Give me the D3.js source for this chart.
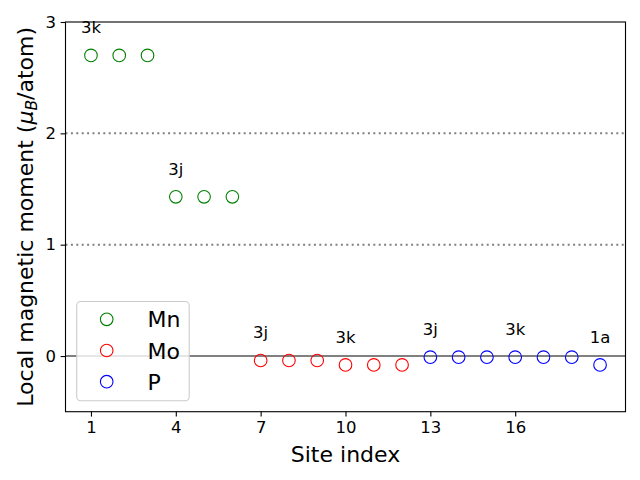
<!DOCTYPE html>
<html><head><meta charset="utf-8">
<script src="https://cdn.jsdelivr.net/npm/d3@7"></script>
<style>body{margin:0;background:#fff}svg{display:block}text{font-family:"DejaVu Sans",sans-serif}</style>
</head><body>
<svg id="c" width="640" height="480"></svg>
<script>
const species = ["Mn","Mo","P"];
const colors = ["#008000","#ff0000","#0000ff"];
const mnSites = [1,2,3,4,5,6];
const mnMoments = [2.70,2.70,2.70,1.43,1.43,1.43];
const moSites = [7,8,9,10,11,12];
const moMoments = [-0.04,-0.04,-0.04,-0.08,-0.08,-0.08];
const pSites = [13,14,15,16,17,18,19];
const pMoments = [-0.01,-0.01,-0.01,-0.01,-0.01,-0.01,-0.08];
const wyckoffLabels = ["3k","3j","3j","3k","3j","3k","1a"];
const wyckoffSites = [1,4,7,10,13,16,19];
const wyckoffMoments = [2.70,1.43,-0.04,-0.08,-0.01,-0.01,-0.08];
const xTicks = [1,4,7,10,13,16];
const yTicks = [0,1,2,3];
const dottedLevels = [1,2];

const svg = d3.select("#c");
const L=65.5, R=625.5, T=22, B=411.7;
const x = d3.scaleLinear().domain([0.1,19.9]).range([L,R]);
const y = d3.scaleLinear().domain([-0.5,3]).range([B,T]);

// reference lines
svg.selectAll(".dot").data(dottedLevels).enter().append("line")
  .attr("x1",L).attr("x2",R).attr("y1",d=>y(d)).attr("y2",d=>y(d))
  .attr("stroke","#808080").attr("stroke-width",2).attr("stroke-dasharray","2,3.4");
svg.append("line").attr("x1",L).attr("x2",R).attr("y1",y(0)).attr("y2",y(0))
  .attr("stroke","#808080").attr("stroke-width",2);

const groups = [[mnSites,mnMoments],[moSites,moMoments],[pSites,pMoments]];
groups.forEach((g,i)=>{
  svg.append("g").selectAll("circle").data(g[0].map((s,j)=>[s,g[1][j]])).enter()
    .append("circle").attr("cx",d=>x(d[0])).attr("cy",d=>y(d[1])).attr("r",6.3)
    .attr("fill","none").attr("stroke",colors[i]).attr("stroke-width",1.1);
});

// annotations
svg.append("g").selectAll("text").data(wyckoffLabels).enter().append("text")
  .attr("x",(d,i)=>x(wyckoffSites[i])).attr("y",(d,i)=>y(wyckoffMoments[i]+0.2))
  .attr("text-anchor","middle").attr("font-size",16.5).attr("fill","#000").text(d=>d);

// axes
const xa = svg.append("g").attr("transform",`translate(0,${B})`)
  .call(d3.axisBottom(x).tickValues(xTicks).tickSize(4.9).tickPadding(4.5).tickFormat(d3.format("d")));
const ya = svg.append("g").attr("transform",`translate(${L},0)`)
  .call(d3.axisLeft(y).tickValues(yTicks).tickSize(4.9).tickPadding(4.5).tickFormat(d3.format("d")));
[xa,ya].forEach(a=>{a.select(".domain").remove();a.selectAll("text").attr("font-size",16.5).attr("font-family","DejaVu Sans").attr("fill","#000");a.selectAll("line").attr("stroke","#000").attr("stroke-width",1.1);});
svg.append("rect").attr("x",L).attr("y",T).attr("width",R-L).attr("height",B-T)
  .attr("fill","none").attr("stroke","#000").attr("stroke-width",1.1);

// axis labels
svg.append("text").attr("x",(L+R)/2).attr("y",462).attr("text-anchor","middle").attr("font-size",22).text("Site index");
const yl = svg.append("text").attr("transform",`translate(33,${(T+B)/2}) rotate(-90)`).attr("text-anchor","middle").attr("font-size",22);
yl.append("tspan").text("Local magnetic moment (");
yl.append("tspan").attr("font-style","italic").text("μ");
yl.append("tspan").attr("font-style","italic").attr("font-size",15.5).attr("dy",4).text("B");
yl.append("tspan").attr("dy",-4).text("/atom)");

// legend
const lg = svg.append("g");
lg.append("rect").attr("x",76.7).attr("y",301.5).attr("width",112.5).attr("height",99.3).attr("rx",4)
  .attr("fill","rgba(255,255,255,0.8)").attr("stroke","#cccccc").attr("stroke-width",1.1);
species.forEach((s,i)=>{
  const cy = 319.3 + i*31.2;
  lg.append("circle").attr("cx",106.7).attr("cy",cy).attr("r",6.3).attr("fill","none").attr("stroke",colors[i]).attr("stroke-width",1.1);
  lg.append("text").attr("x",147.5).attr("y",cy+8).attr("font-size",22).text(s);
});
</script>
</body></html>
